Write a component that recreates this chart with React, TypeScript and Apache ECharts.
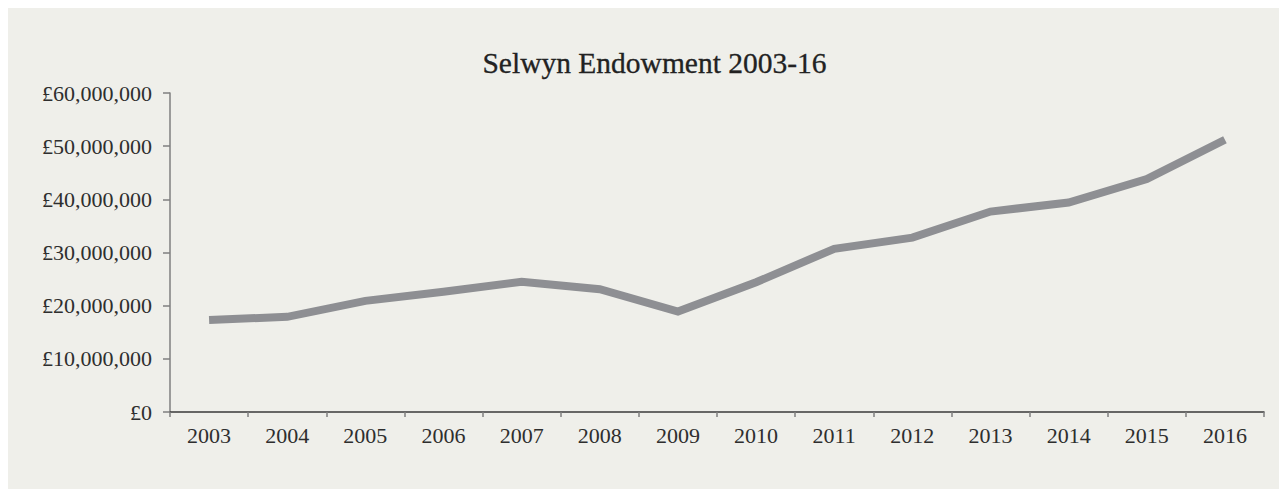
import React, { useEffect, useRef } from "react";
import * as echarts from "echarts";

const years = ["2003", "2004", "2005", "2006", "2007", "2008", "2009", "2010", "2011", "2012", "2013", "2014", "2015", "2016"];
const endowment = [17300000, 17900000, 20900000, 22600000, 24500000, 23100000, 18900000, 24400000, 30700000, 32800000, 37700000, 39400000, 43800000, 51200000];
const yTicks = [0, 10000000, 20000000, 30000000, 40000000, 50000000, 60000000];
const titleText = "Selwyn Endowment 2003-16";

const FONT = "'Liberation Serif', 'DejaVu Serif', serif";

function formatPounds(v: number): string {
  return "£" + v.toLocaleString("en-GB");
}

export default function App() {
  const ref = useRef<HTMLDivElement>(null);

  useEffect(() => {
    document.documentElement.style.overflow = "hidden";
    if (!ref.current) return;
    const chart = echarts.init(ref.current, undefined, { renderer: "svg" });
    chart.setOption({
      animation: false,
      backgroundColor: "#efefea",
      graphic: [
        {
          type: "text",
          x: 646.5,
          y: 55,
          style: {
            text: titleText,
            font: `29.5px ${FONT}`,
            fill: "#222222",
            stroke: "#222222",
            lineWidth: 0.3,
            textAlign: "center",
            textVerticalAlign: "middle",
          },
        },
      ],
      grid: { left: 162, right: 23, top: 85, bottom: 77, containLabel: false },
      xAxis: {
        type: "category",
        data: years,
        boundaryGap: true,
        axisLine: { lineStyle: { color: "#3a3a3a", width: 1.5 } },
        axisTick: { show: true, length: 5, lineStyle: { color: "#7f7f7f", width: 1.5 } },
        axisLabel: { color: "#2e2e2e", fontFamily: FONT, fontSize: 22, margin: 12 },
        splitLine: { show: false },
      },
      yAxis: {
        type: "value",
        min: yTicks[0],
        max: yTicks[yTicks.length - 1],
        interval: yTicks[1] - yTicks[0],
        axisLine: { show: true, lineStyle: { color: "#7f7f7f", width: 1.5 } },
        axisTick: { show: true, length: 7, lineStyle: { color: "#7f7f7f", width: 1.5 } },
        axisLabel: {
          color: "#2e2e2e",
          fontFamily: FONT,
          fontSize: 22,
          margin: 18,
          formatter: (v: number) => formatPounds(v),
        },
        splitLine: { show: false },
      },
      series: [
        {
          type: "line",
          data: endowment,
          showSymbol: false,
          symbol: "none",
          lineStyle: { color: "#8e8f93", width: 8, cap: "butt", join: "miter" },
        },
      ],
    });
    return () => chart.dispose();
  }, []);

  return <div ref={ref} style={{ width: 1279, height: 481 }} />;
}
